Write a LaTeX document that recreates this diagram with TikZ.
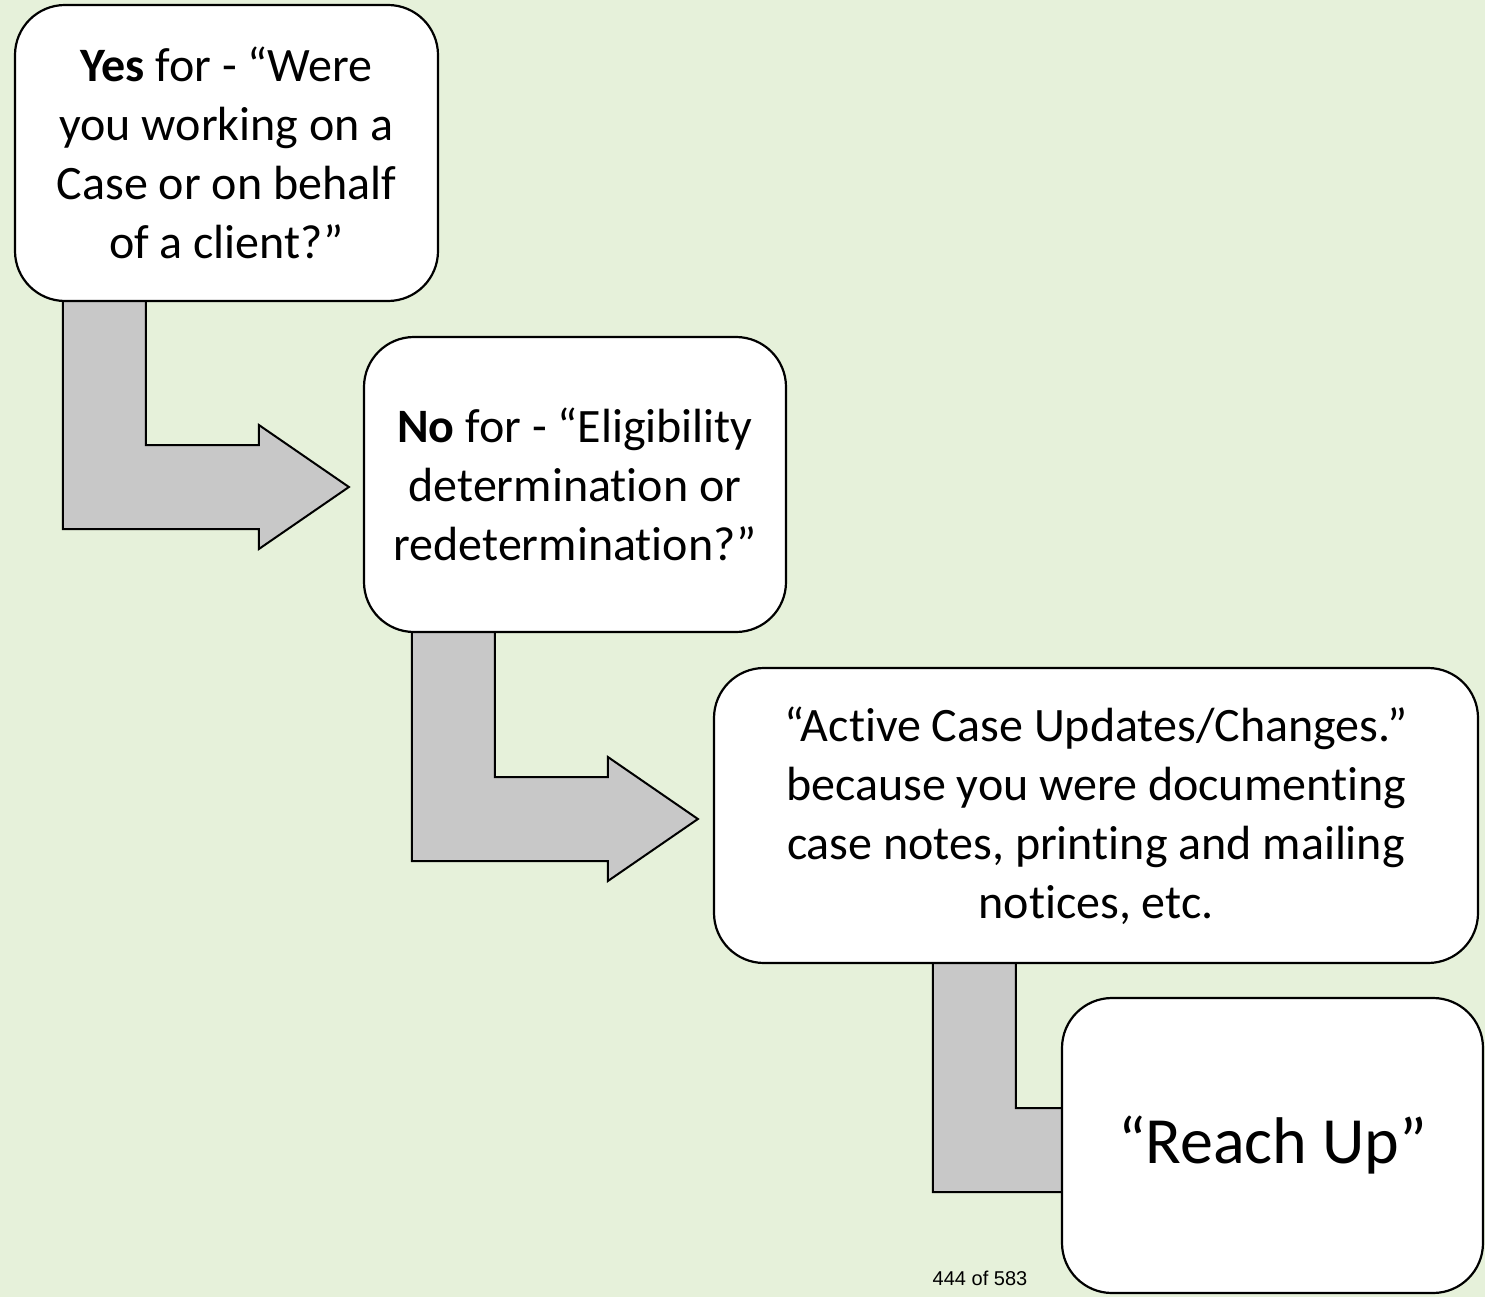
\documentclass[tikz,border=0pt]{standalone}
\usepackage{fontspec}
\setmainfont{Carlito}[Ligatures={NoCommon,NoContextual}]
\newfontfamily\pagefont{Liberation Sans}
\usetikzlibrary{calc}
\definecolor{bgcol}{HTML}{E6F1DA}
\definecolor{arrowgray}{HTML}{C8C8C8}
\pgfdeclarelayer{bg}
\pgfsetlayers{bg,main}
\newcommand\nolig{\kern0pt }
\tikzset{
  box/.style={draw=black, line width=2.2pt, fill=white, rounded corners=50pt,
    align=center, inner sep=0pt, font=\fontsize{48}{59}\selectfont},
  arrowshape/.style={draw=black, line width=2pt, fill=arrowgray, line join=miter},
}
\newcommand\bentarr[3]{% #1 source corner, #2 shaft x offset, #3 tip
  \draw[arrowshape] let \p1=(#1), \p2=(#3) in
    (\x1+#2pt,\y1+4pt) -- (\x1+#2pt+83pt,\y1+4pt) -- (\x1+#2pt+83pt,\y2+42pt)
    -- (\x2-90pt,\y2+42pt) -- (\x2-90pt,\y2+62pt) -- (\x2,\y2)
    -- (\x2-90pt,\y2-62pt) -- (\x2-90pt,\y2-42pt) -- (\x1+#2pt,\y2-42pt) -- cycle;}
\begin{document}
\begin{tikzpicture}[x=1pt,y=-1pt]
\useasboundingbox (0,0) rectangle (1485,1297);

\node[box, minimum width=423pt, minimum height=296pt] (b1) at (226.5,153)
  {\textbf{Yes} for - “Were\\you working on a\\Case or on behalf\\of a client?”};
\node[box, minimum width=422pt, minimum height=295pt] (b2) at (575,484.5)
  {\textbf{No} for - “Eligibility\\determination or\\redetermination?”};
\node[box, minimum width=764pt, minimum height=295pt] (b3) at (1096,815.5)
  {“Act\nolig ive Case Updates/Changes.”\\because you were document\nolig ing\\case notes, print\nolig ing and mailing\\not\nolig ices, etc.};
\node[box, minimum width=421pt, minimum height=295pt, font=\fontsize{66}{78}\selectfont] (b4) at (1272.5,1145.5)
  {“Reach Up”};

\coordinate (t1) at ($(b2.west)+(-14,2.5)$);
\coordinate (t2) at ($(b3.west)+(-15,3.5)$);
\coordinate (t3) at ($(b4.west)+(140,4.5)$);

\begin{pgfonlayer}{bg}
\fill[bgcol] (0,0) rectangle (1485,1297);
\bentarr{b1.south west}{49}{t1}
\bentarr{b2.south west}{49}{t2}
\bentarr{b3.south west}{220}{t3}
\end{pgfonlayer}

\node[font=\pagefont\fontsize{20}{24}\selectfont, inner sep=0pt, anchor=base] (pg) at (980,1285) {444 of 583};
\end{tikzpicture}
\end{document}
